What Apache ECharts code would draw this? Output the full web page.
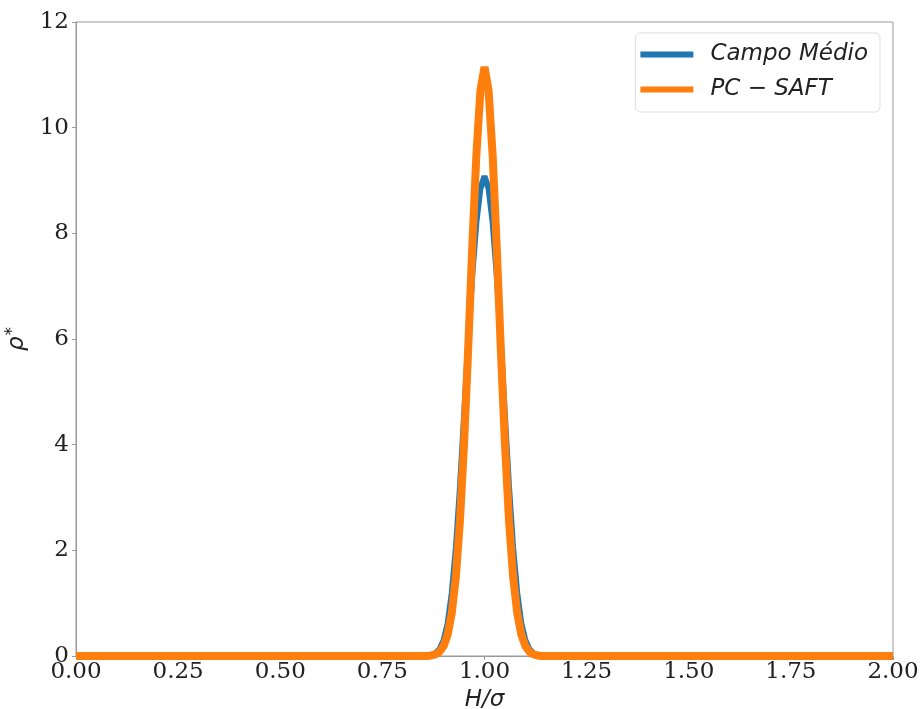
<!DOCTYPE html>
<html>
<head>
<meta charset="utf-8">
<script src="https://cdn.jsdelivr.net/npm/echarts@6/dist/echarts.min.js"></script>
<style>
html,body{margin:0;padding:0;background:#fff;}
#chart{width:922px;height:709px;}
</style>
</head>
<body>
<div id="chart"></div>
<script>
// H/sigma positions
const hValues = [0.00, 0.50, 0.86, 0.87, 0.88, 0.89, 0.90, 0.91, 0.92, 0.93, 0.94, 0.95, 0.96, 0.97, 0.98, 0.99, 1.00,
                 1.01, 1.02, 1.03, 1.04, 1.05, 1.06, 1.07, 1.08, 1.09, 1.10, 1.11, 1.12, 1.13, 1.14, 1.50, 2.00];
// Campo Médio density
const campoMedio = [0, 0, 0, 0.02, 0.05, 0.13, 0.30, 0.62, 1.20, 2.05, 3.20, 4.55, 5.95, 7.20, 8.20, 8.85, 9.08,
                    8.85, 8.20, 7.20, 5.95, 4.55, 3.20, 2.05, 1.20, 0.62, 0.30, 0.13, 0.05, 0.02, 0, 0, 0];
// PC-SAFT density
const pcSaft = [0, 0, 0, 0.01, 0.03, 0.08, 0.19, 0.41, 0.82, 1.51, 2.57, 4.02, 5.80, 7.73, 9.47, 10.70, 11.15,
                10.70, 9.47, 7.73, 5.80, 4.02, 2.57, 1.51, 0.82, 0.41, 0.19, 0.08, 0.03, 0.01, 0, 0, 0];
const seriesNames = ['Campo Médio', 'PC \u2212 SAFT'];

const chart = echarts.init(document.getElementById('chart'));
const tickFont = {fontFamily: 'DejaVu Serif', fontSize: 23, color: '#222'};
chart.setOption({
  backgroundColor: '#fff',
  animation: false,
  grid: {left: 76, right: 29, top: 22, bottom: 53, show: true, borderColor: '#999', borderWidth: 1,
         containLabel: false, outerBoundsMode: 'none'},
  legend: {
    orient: 'vertical',
    right: 42, top: 33,
    padding: [10, 12, 11, 5],
    itemGap: 12,
    itemWidth: 53, itemHeight: 6,
    icon: 'rect',
    borderColor: '#ddd', borderWidth: 1, borderRadius: 5,
    textStyle: {fontFamily: 'DejaVu Sans', fontStyle: 'italic', fontSize: 23, color: '#222', padding: [0,0,0,12]},
    data: seriesNames
  },
  xAxis: {
    type: 'value', min: 0, max: 2, interval: 0.25,
    name: 'H/σ', nameLocation: 'middle', nameGap: 30,
    nameTextStyle: {fontFamily: 'DejaVu Sans', fontStyle: 'italic', fontSize: 23, color: '#222'},
    axisLine: {lineStyle: {color: '#999'}},
    axisTick: {show: true, length: 4, lineStyle: {color: '#999'}},
    splitLine: {show: false},
    axisLabel: Object.assign({margin: 5, formatter: v => v.toFixed(2)}, tickFont)
  },
  yAxis: {
    type: 'value', min: 0, max: 12, interval: 2,
    name: '{a|ρ}{b|*}', nameLocation: 'middle', nameGap: 41, nameRotate: 90,
    nameTextStyle: {
      rich: {
        a: {fontFamily: 'DejaVu Sans', fontStyle: 'italic', fontSize: 23, color: '#222'},
        b: {fontFamily: 'DejaVu Sans', fontSize: 17, color: '#222', verticalAlign: 'top', padding: [0,0,10,1]}
      }
    },
    axisLine: {lineStyle: {color: '#999'}},
    axisTick: {show: true, length: 4, lineStyle: {color: '#999'}},
    splitLine: {show: false},
    axisLabel: Object.assign({margin: 7}, tickFont)
  },
  series: [
    {
      name: seriesNames[0], type: 'line', showSymbol: false, symbol: 'none',
      data: hValues.map((h, i) => [h, campoMedio[i]]),
      lineStyle: {color: '#1f77b4', width: 6}, itemStyle: {color: '#1f77b4'}, z: 2
    },
    {
      name: seriesNames[1], type: 'line', showSymbol: false, symbol: 'none',
      data: hValues.map((h, i) => [h, pcSaft[i]]),
      lineStyle: {color: '#ff7f0e', width: 8}, itemStyle: {color: '#ff7f0e'}, z: 3
    }
  ]
});
</script>
</body>
</html>
